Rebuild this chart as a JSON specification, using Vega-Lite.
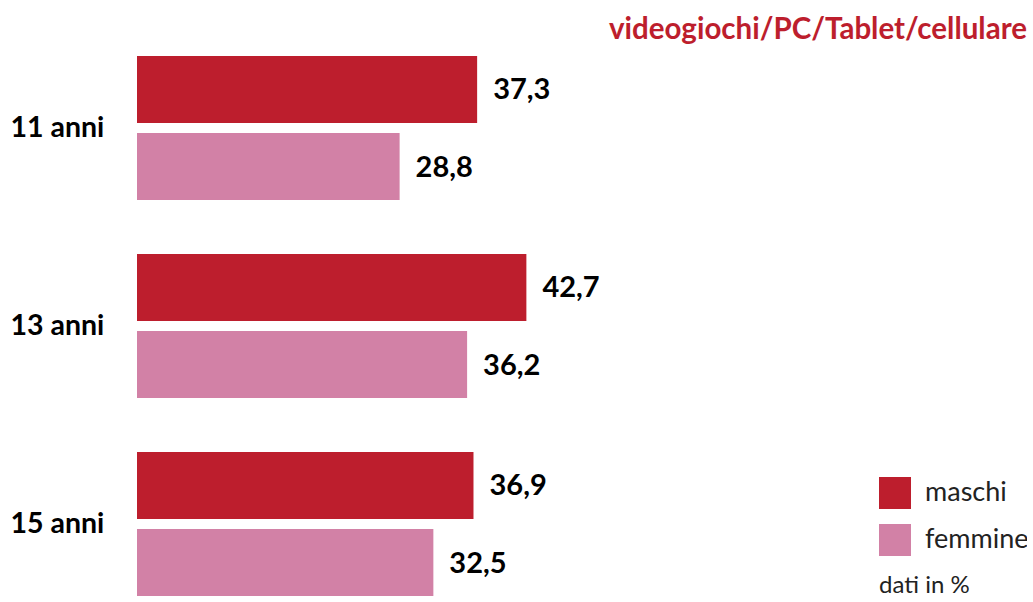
{
  "$schema": "https://vega.github.io/schema/vega-lite/v6.json",
  "width": 890,
  "height": 548,
  "padding": {"left": 137, "top": 52, "right": 0, "bottom": 0},
  "autosize": {"type": "none"},
  "background": "white",
  "title": {
    "text": "videogiochi/PC/Tablet/cellulare",
    "anchor": "end",
    "frame": "group",
    "color": "#BD1E2D",
    "font": "Lato",
    "fontSize": 29.5,
    "fontWeight": "bold",
    "offset": 7
  },
  "data": {
    "values": [
      {"eta": "11 anni", "sesso": "maschi", "valore": 37.3},
      {"eta": "11 anni", "sesso": "femmine", "valore": 28.8},
      {"eta": "13 anni", "sesso": "maschi", "valore": 42.7},
      {"eta": "13 anni", "sesso": "femmine", "valore": 36.2},
      {"eta": "15 anni", "sesso": "maschi", "valore": 36.9},
      {"eta": "15 anni", "sesso": "femmine", "valore": 32.5}
    ]
  },
  "encoding": {
    "y": {
      "field": "eta",
      "type": "nominal",
      "sort": ["11 anni", "13 anni", "15 anni"],
      "scale": {"paddingInner": 0.2727, "paddingOuter": 0.0202},
      "axis": {
        "title": null,
        "domain": false,
        "ticks": false,
        "grid": false,
        "labelAlign": "left",
        "labelPadding": 127,
        "labelFont": "Lato",
        "labelFontSize": 28.5,
        "labelFontWeight": "bold",
        "labelColor": "#000000"
      }
    },
    "yOffset": {
      "field": "sesso",
      "type": "nominal",
      "sort": ["maschi", "femmine"],
      "scale": {"paddingInner": 0.13, "paddingOuter": 0}
    },
    "x": {
      "field": "valore",
      "type": "quantitative",
      "scale": {"domain": [0, 97.6], "nice": false, "zero": true},
      "axis": null
    }
  },
  "layer": [
    {
      "mark": {"type": "bar"},
      "encoding": {
        "color": {
          "field": "sesso",
          "type": "nominal",
          "sort": ["maschi", "femmine"],
          "scale": {"domain": ["maschi", "femmine"], "range": ["#BD1E2D", "#D281A6"]},
          "legend": {
            "orient": "none",
            "legendX": 742,
            "legendY": 425,
            "title": "dati in %",
            "titleOrient": "bottom",
            "titleFont": "Lato",
            "titleFontSize": 24,
            "titleFontWeight": "normal",
            "titleColor": "#222222",
            "titlePadding": 18,
            "symbolType": "square",
            "symbolSize": 1024,
            "symbolStrokeWidth": 0,
            "symbolOpacity": 1,
            "labelFont": "Lato",
            "labelFontSize": 27,
            "labelColor": "#222222",
            "labelOffset": 14,
            "rowPadding": 15
          }
        }
      }
    },
    {
      "mark": {
        "type": "text",
        "align": "left",
        "baseline": "middle",
        "dx": 16,
        "dy": 1,
        "font": "Lato",
        "fontSize": 29,
        "fontWeight": "bold",
        "color": "#000000"
      },
      "encoding": {
        "text": {"field": "valore", "type": "quantitative", "format": ".1f"}
      }
    }
  ],
  "config": {
    "view": {"stroke": null},
    "locale": {
      "number": {"decimal": ",", "thousands": ".", "grouping": [3], "currency": ["", " €"]}
    }
  }
}
